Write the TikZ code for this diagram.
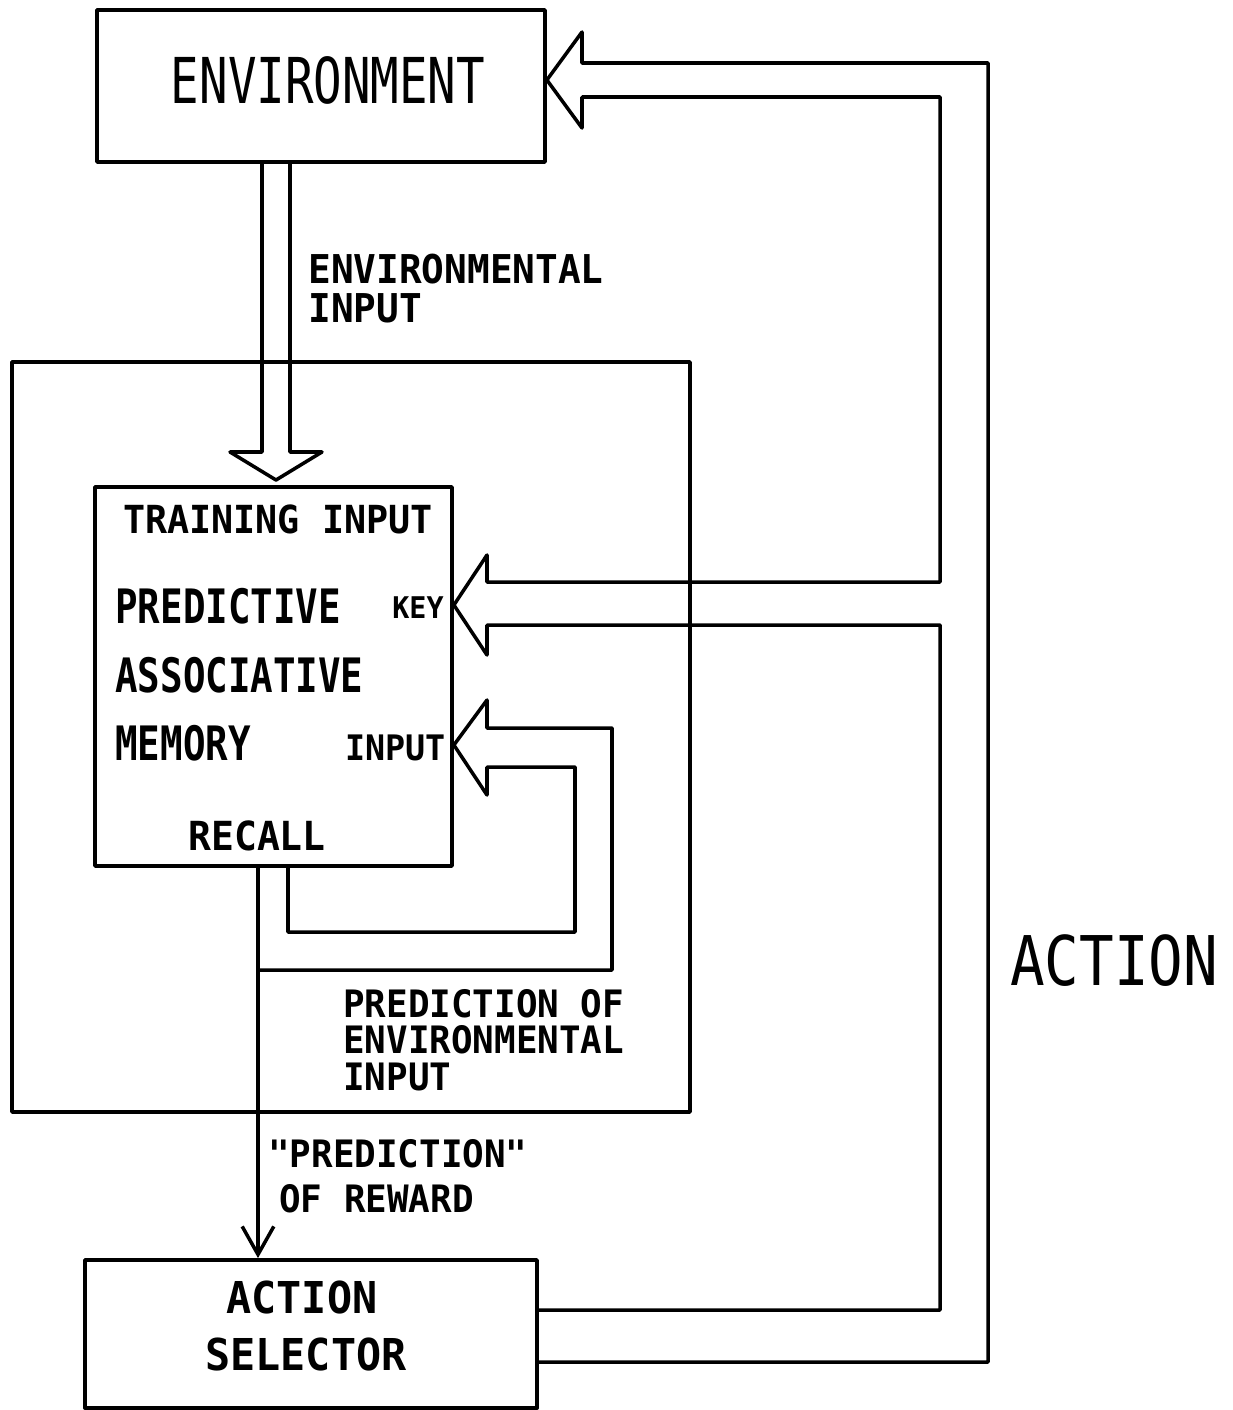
\documentclass[tikz,border=0pt]{standalone}
\usepackage{fontspec}
\usetikzlibrary{arrows.meta}
\newfontfamily\plotlight[FakeStretch=0.75]{DejaVu Sans Mono}
\newfontfamily\plotwide[FakeStretch=0.84]{DejaVu Sans Mono}
\newfontfamily\plotbold[FakeStretch=0.95]{DejaVu Sans Mono}
\newfontfamily\plottall[FakeStretch=0.79]{DejaVu Sans Mono}
\newcommand\fsz[1]{\fontsize{#1}{#1}\selectfont}
\tikzset{
  box/.style={draw, line width=2.2pt, inner sep=0pt, line join=round},
  wire/.style={line width=2pt, line join=round, line cap=round},
  lbl/.style={inner sep=0pt, anchor=base west},
  smalllbl/.style={lbl, font=\plotbold\bfseries\fsz{#1}},
  biglbl/.style={lbl, font=\plottall\bfseries\fsz{27pt}},
}
\begin{document}
\begin{tikzpicture}[x=0.02cm, y=-0.02cm]
\useasboundingbox (0,0) rectangle (1233,1410);

% boxes
\node[box, minimum width=8.96cm, minimum height=3.04cm] (env) at (321,86) {};
\node[box, minimum width=13.56cm, minimum height=15cm] (outer) at (351,737) {};
\node[box, minimum width=7.14cm, minimum height=7.58cm] (pam) at (273.5,676.5) {};
\node[box, minimum width=9.04cm, minimum height=2.96cm] (sel) at (311,1334) {};

% box texts
\node[lbl, anchor=base, font=\plotlight\fsz{36pt}] (envtxt) at (328,103) {ENVIRONMENT};
\node[smalllbl=22pt, anchor=base] (train) at (278,533) {TRAINING INPUT};
\node[biglbl] (pred) at (115,623) {PREDICTIVE};
\node[biglbl] (assoc) at (115,692) {ASSOCIATIVE};
\node[biglbl] (mem) at (115,760) {MEMORY};
\node[smalllbl=17pt, anchor=base east] (key) at (444,618) {KEY};
\node[smalllbl=20pt, anchor=base east] (inp) at (446,760) {INPUT};
\node[smalllbl=22.8pt] (recall) at (188,850) {RECALL};
\node[smalllbl=25pt, anchor=base] (selA) at (302,1313) {ACTION};
\node[smalllbl=25pt, anchor=base] (selB) at (306,1370) {SELECTOR};

% labels
\node[smalllbl=22.6pt] (envin1) at (308,283) {ENVIRONMENTAL};
\node[smalllbl=22.6pt] (envin2) at (308,322) {INPUT};
\node[smalllbl=21.5pt] (pe1) at (343,1017) {PREDICTION OF};
\node[smalllbl=21.5pt] (pe2) at (343,1053) {ENVIRONMENTAL};
\node[smalllbl=21.5pt] (pe3) at (343,1090) {INPUT};
\node[smalllbl=21.5pt] (pr1) at (268,1167) {"PREDICTION"};
\node[smalllbl=21.5pt] (pr2) at (279,1212) {OF REWARD};
\node[lbl, anchor=base, font=\plotwide\fsz{39pt}] (actlbl) at (1114,985) {ACTION};

% environmental input double arrow
\draw[wire] (env.south -| 262,0) -- (262,452) -- (230,452) -- (276,480)
  -- (322,452) -- (290,452) -- (env.south -| 290,0);

% action double arrow (branching to environment and key)
\draw[wire] (sel.east |- 0,1362) -- (988,1362) -- (988,63) -- (582,63)
  -- (582,32) -- (env.east |- 0,80) -- (582,128) -- (582,97) -- (940,97)
  -- (940,582) -- (487,582) -- (487,555) -- (pam.east |- 0,605)
  -- (487,655) -- (487,625) -- (940,625) -- (940,1310) -- (sel.east |- 0,1310);

% recall feedback double arrow to input
\draw[wire] (pam.south -| 288,0) -- (288,932) -- (575,932) -- (575,767)
  -- (487,767) -- (487,795) -- (pam.east |- 0,745) -- (487,700)
  -- (487,728) -- (612,728) -- (612,970) -- (258,970);

% prediction of reward
\draw[wire, -{Straight Barb[length=16pt, width=18pt, line width=2pt]}]
  (pam.south -| 258,0) -- (sel.north -| 258,0);
\end{tikzpicture}
\end{document}
